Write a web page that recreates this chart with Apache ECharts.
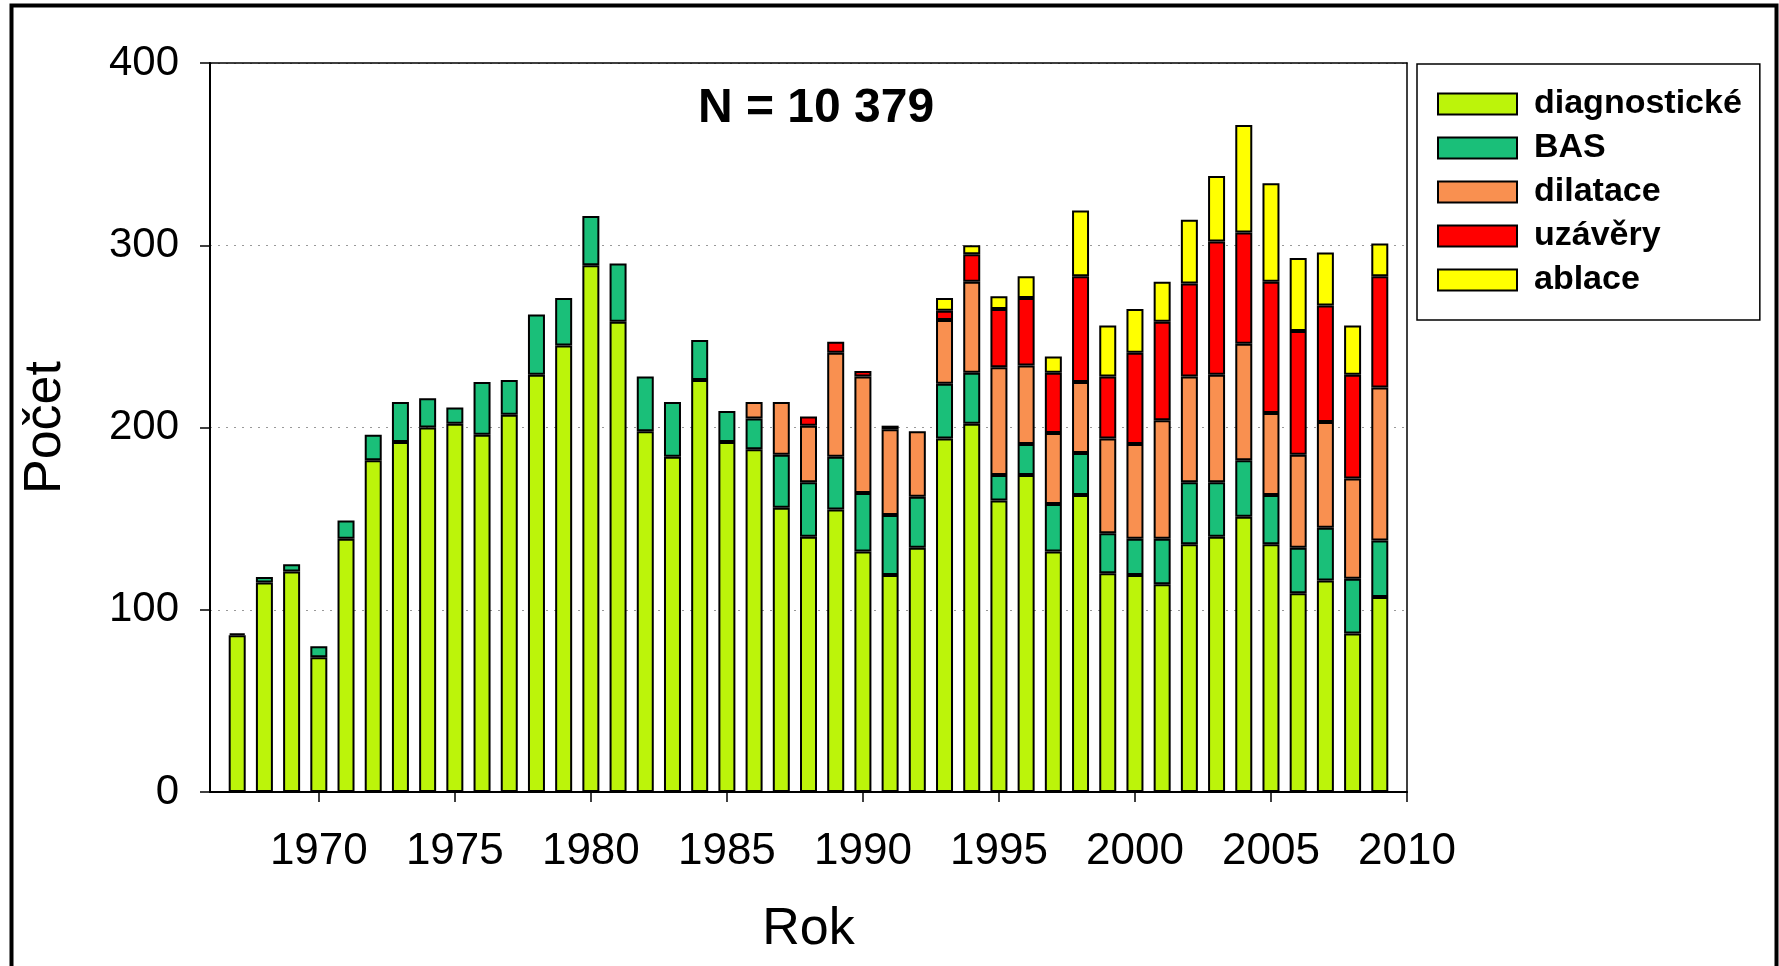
<!DOCTYPE html>
<html>
<head>
  <meta charset="utf-8">
  <title>Počet výkonů podle roku</title>
  <script src="https://cdn.jsdelivr.net/npm/echarts@6/dist/echarts.min.js"></script>
  <style>
    html, body { margin: 0; padding: 0; background: #fff; }
    #chart { width: 1779px; height: 966px; }
  </style>
</head>
<body>
<div id="chart"></div>
<script>
  // years with bars (1967 - 2009)
  const years = [1967, 1968, 1969, 1970, 1971, 1972, 1973, 1974, 1975, 1976, 1977, 1978, 1979, 1980, 1981,
    1982, 1983, 1984, 1985, 1986, 1987, 1988, 1989, 1990, 1991, 1992, 1993, 1994, 1995, 1996, 1997, 1998,
    1999, 2000, 2001, 2002, 2003, 2004, 2005, 2006, 2007, 2008, 2009];

  const diagnosticke = [86, 115, 121, 74, 139, 182, 192, 200, 202, 196, 207, 229, 245, 289, 258,
    198, 184, 226, 192, 188, 156, 140, 155, 132, 119, 134, 194, 202, 160, 174, 132, 163,
    120, 119, 114, 136, 140, 151, 136, 109, 116, 87, 107];
  const bas = [1, 3, 4, 6, 10, 14, 22, 16, 9, 29, 19, 33, 26, 27, 32,
    30, 30, 22, 17, 17, 29, 30, 29, 32, 33, 28, 30, 28, 14, 17, 26, 23,
    22, 20, 25, 34, 30, 31, 27, 25, 29, 30, 31];
  const dilatace = [null, null, null, null, null, null, null, null, null, null, null, null, null, null, null,
    null, null, null, null, 9, 29, 31, 57, 64, 47, 36, 35, 50, 59, 43, 39, 39,
    52, 52, 65, 58, 59, 64, 45, 51, 58, 55, 84];
  const uzavery = [null, null, null, null, null, null, null, null, null, null, null, null, null, null, null,
    null, null, null, null, null, null, 5, 6, 3, 2, null, 5, 15, 32, 37, 33, 58,
    34, 50, 54, 51, 73, 61, 72, 68, 64, 57, 61];
  const ablace = [null, null, null, null, null, null, null, null, null, null, null, null, null, null, null,
    null, null, null, null, null, null, null, null, null, null, null, 7, 5, 7, 12, 9, 36,
    28, 24, 22, 35, 36, 59, 54, 40, 29, 27, 18];

  const seriesNames = ['diagnostické', 'BAS', 'dilatace', 'uzávěry', 'ablace'];
  const seriesColors = ['#BCF40A', '#1ABF79', '#F99050', '#FF0000', '#FFFF00'];
  const seriesData = [diagnosticke, bas, dilatace, uzavery, ablace];

  // axis runs from 1966 to 2010, bars sit on the year ticks
  const axisYears = [1966].concat(years, [2010]).map(String);

  const font = "'Liberation Sans', Arial, sans-serif";
  const chart = echarts.init(document.getElementById('chart'));

  const series = seriesNames.map(function (name, i) {
    return {
      name: name,
      type: 'bar',
      stack: 'total',
      barWidth: 17,
      itemStyle: {
        color: seriesColors[i],
        borderColor: '#000',
        borderWidth: 2
      },
      data: [null].concat(seriesData[i], [null])
    };
  });

  chart.setOption({
    backgroundColor: '#fff',
    animation: false,
    title: {
      text: 'N = 10 379',
      left: 811,
      top: 80,
      textAlign: 'center',
      textStyle: { fontFamily: font, fontSize: 48, fontWeight: 'bold', color: '#000' }
    },
    legend: {
      orient: 'vertical',
      left: 1417,
      top: 64,
      padding: [23, 18, 23, 20],
      itemGap: 10,
      itemWidth: 79,
      itemHeight: 21,
      borderColor: '#000',
      borderWidth: 1.5,
      icon: 'rect',
      textStyle: { fontFamily: font, fontSize: 34, fontWeight: 'bold', color: '#000', lineHeight: 34, padding: [0, 0, 0, 12] },
      data: seriesNames
    },
    graphic: [{
      type: 'rect',
      left: 9,
      top: 3,
      shape: { width: 1765, height: 1000 },
      style: { fill: 'none', stroke: '#000', lineWidth: 4 },
      silent: true
    }],
    grid: { left: 210, right: 372, top: 63, bottom: 174 },
    xAxis: [{
      type: 'category',
      data: axisYears,
      boundaryGap: false,
      name: 'Rok',
      nameLocation: 'middle',
      nameGap: 112,
      nameTextStyle: { fontFamily: font, fontSize: 52, color: '#000' },
      axisLine: { onZero: false, lineStyle: { color: '#000', width: 2 } },
      axisTick: {
        length: 10,
        lineStyle: { color: '#000', width: 1.5 },
        interval: function (idx, val) { return Number(val) % 5 === 0; }
      },
      axisLabel: {
        margin: 38,
        fontFamily: font,
        fontSize: 44,
        color: '#000',
        interval: function (idx, val) { return Number(val) % 5 === 0 && Number(val) > 1966; }
      },
      splitLine: { show: false }
    }, {
      type: 'category',
      data: axisYears,
      boundaryGap: false,
      position: 'top',
      axisLine: { onZero: false, lineStyle: { color: '#000', width: 1.5 } },
      axisTick: { show: false },
      axisLabel: { show: false }
    }],
    yAxis: [{
      type: 'value',
      min: 0,
      max: 400,
      interval: 100,
      name: 'Počet',
      nameLocation: 'middle',
      nameGap: 138,
      nameRotate: 90,
      nameTextStyle: { fontFamily: font, fontSize: 52, color: '#000' },
      axisLine: { show: true, lineStyle: { color: '#000', width: 2 } },
      axisTick: { show: true, length: 10, lineStyle: { color: '#000', width: 1.5 } },
      axisLabel: { margin: 31, fontFamily: font, fontSize: 42, color: '#000' },
      splitLine: { show: true, lineStyle: { color: '#999', width: 1, type: [2, 6] } }
    }, {
      type: 'value',
      min: 0,
      max: 400,
      position: 'right',
      axisLine: { show: true, onZero: false, lineStyle: { color: '#000', width: 1.5 } },
      axisTick: { show: false },
      axisLabel: { show: false },
      splitLine: { show: false }
    }],
    series: series
  });
</script>
</body>
</html>
